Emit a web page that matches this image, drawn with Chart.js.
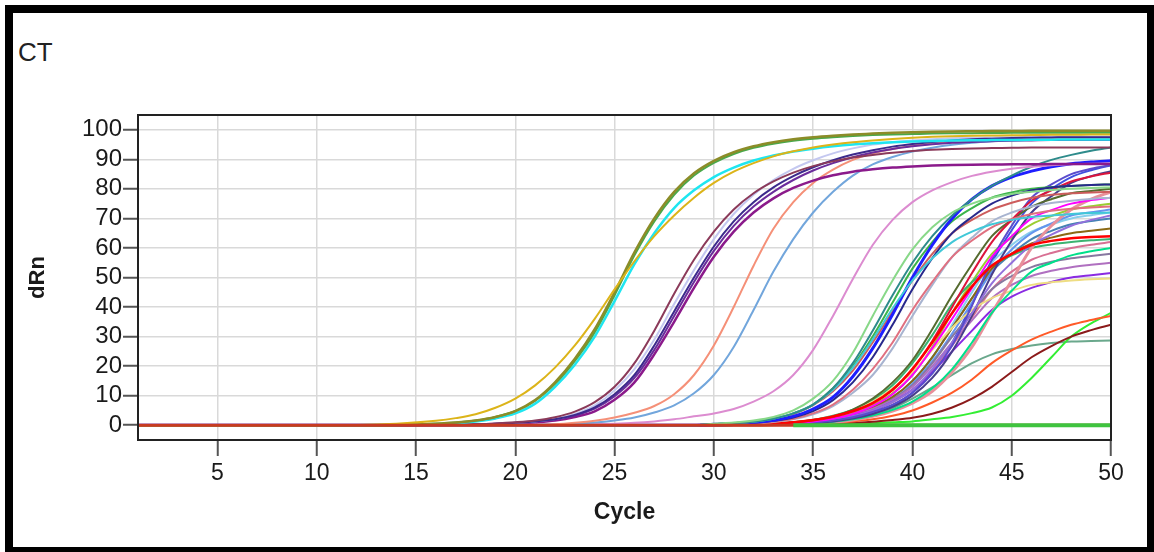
<!DOCTYPE html>
<html>
<head>
<meta charset="utf-8">
<script src="https://cdn.jsdelivr.net/npm/chart.js@4/dist/chart.umd.min.js"></script>
<style>
  html, body { margin: 0; padding: 0; background: #fff; }
  #frame {
    position: absolute; left: 5px; top: 5px; width: 1149px; height: 547px;
    box-sizing: border-box; border: solid #000; border-width: 8px 7px 5px 8px;
  }
  #ct {
    position: absolute; left: 18px; top: 37px; line-height: 26px;
    font: 26px "Liberation Sans", Arial, sans-serif; color: #222;
  }
  #chart { position: absolute; left: 0; top: 0; }
</style>
</head>
<body>
<div id="frame"></div>
<div id="ct">CT</div>
<canvas id="chart" width="1154" height="552"></canvas>
<script>
const cycles = [1, 12, 14, 16, 17, 18, 19, 20, 21, 22, 23, 24, 25, 26, 27, 28, 29, 30, 31, 32, 33,
    34, 35, 36, 37, 38, 39, 40, 41, 42, 43, 44, 45, 46, 47, 48, 49, 50];
// late curves are flat until cycle 29
const lateCycles = [1, 29, 30, 31, 32, 33, 34, 35, 36, 37, 38, 39, 40, 41, 42, 43, 44, 45, 46, 47, 48, 49, 50];
const xTicks = [5, 10, 15, 20, 25, 30, 35, 40, 45, 50];
const yTicks = [0, 10, 20, 30, 40, 50, 60, 70, 80, 90, 100];

// early samples (on cycles)
const gold     = [0, 0.1, 0.5, 1.5, 2.4, 3.7, 5.9, 9, 13.5, 19.5, 27, 36, 46, 55.5, 64, 71, 77, 82, 85.8, 88.7, 91, 92.7, 94, 95, 95.8, 96.4, 96.9, 97.3, 97.6, 97.8, 97.95, 98.05, 98.15, 98.2, 98.3, 98.3, 98.4, 98.4];
const olive    = [0, 0, 0.1, 0.5, 0.9, 1.6, 2.8, 4.8, 8.5, 14.5, 22.5, 32.5, 45, 58.5, 70, 79, 85.3, 89.5, 92.4, 94.4, 95.8, 96.8, 97.5, 98, 98.4, 98.7, 99, 99.2, 99.35, 99.45, 99.5, 99.55, 99.6, 99.65, 99.7, 99.7, 99.7, 99.7];
const green    = [0, 0, 0.1, 0.5, 0.9, 1.6, 2.8, 4.8, 8.3, 14, 21.8, 31.5, 44, 57.5, 69, 78, 84.5, 88.8, 91.8, 93.9, 95.3, 96.3, 97, 97.5, 97.9, 98.2, 98.4, 98.55, 98.7, 98.8, 98.85, 98.9, 98.95, 99, 99, 99, 99, 99];
const cyan     = [0, 0, 0.1, 0.4, 0.7, 1.3, 2.3, 4, 7.3, 13, 20.5, 30, 42, 54.5, 65, 73.5, 79.5, 84, 87.2, 89.6, 91.3, 92.6, 93.6, 94.4, 95, 95.4, 95.75, 96, 96.2, 96.35, 96.45, 96.5, 96.55, 96.6, 96.65, 96.7, 96.7, 96.7];
const maroon   = [0, 0, 0, 0.1, 0.2, 0.35, 0.6, 1, 1.6, 2.7, 4.6, 7.8, 13, 21, 32, 44.5, 56, 65.5, 73, 78.5, 82.5, 85.5, 87.7, 89.3, 90.6, 91.5, 92.2, 92.8, 93.2, 93.5, 93.7, 93.8, 93.9, 94, 94, 94, 94, 94];
const indigo   = [0, 0, 0, 0.1, 0.15, 0.25, 0.5, 0.8, 1.3, 2, 3.5, 6, 10.5, 17, 27, 38.5, 50, 60.5, 69, 75.5, 80.5, 84.3, 87.3, 89.7, 91.6, 93.1, 94.3, 95.2, 95.9, 96.4, 96.8, 97, 97.2, 97.3, 97.4, 97.5, 97.5, 97.5];
const lavender = [0, 0, 0, 0.1, 0.15, 0.25, 0.5, 0.8, 1.3, 2.1, 3.8, 6.7, 11.8, 19, 29, 41, 52.5, 63, 71.5, 78, 83, 86.8, 89.7, 92, 93.7, 95, 95.8, 96.4, 96.8, 97.1, 97.3, 97.4, 97.5, 97.55, 97.6, 97.6, 97.6, 97.6];
const violet   = [0, 0, 0, 0.1, 0.15, 0.25, 0.45, 0.7, 1.2, 1.9, 3.3, 5.6, 9.8, 16, 25.5, 37, 48.5, 59, 67.5, 74, 79, 83, 86.2, 88.7, 90.7, 92.3, 93.5, 94.4, 95.1, 95.6, 95.9, 96.1, 96.3, 96.4, 96.5, 96.5, 96.5, 96.5];
const purple   = [0, 0, 0, 0.1, 0.15, 0.25, 0.4, 0.6, 1, 1.6, 2.8, 4.7, 8.6, 14.5, 24, 35, 46.5, 57, 65.5, 72, 76.8, 80.3, 82.8, 84.6, 85.8, 86.6, 87.2, 87.6, 87.9, 88.1, 88.2, 88.25, 88.3, 88.35, 88.4, 88.4, 88.4, 88.4];
const salmon   = [0, 0, 0, 0, 0, 0, 0, 0, 0.1, 0.3, 0.8, 1.5, 2.6, 4.2, 6.5, 10.5, 17, 27, 40, 54, 66.5, 75.5, 82, 86.5, 89.8, 92, 93.5, 94.6, 95.3, 95.8, 96.2, 96.5, 96.7, 96.8, 96.9, 97, 97, 97];
const skyBlue  = [0, 0, 0, 0, 0, 0, 0, 0, 0.1, 0.2, 0.5, 0.9, 1.6, 2.6, 4.3, 6.7, 10.8, 17, 26.5, 39, 52, 63, 72, 79, 84.5, 88.3, 90.8, 92.6, 93.9, 94.9, 95.6, 96.1, 96.5, 96.7, 96.85, 96.95, 97, 97];
const orchid   = [0, 0, 0, 0, 0, 0, 0, 0, 0.05, 0.1, 0.2, 0.3, 0.5, 0.8, 1.3, 2, 3, 4, 5.5, 8, 11.5, 17, 25.5, 37, 49.5, 61, 69.5, 75.5, 79.5, 82.3, 84.4, 85.8, 86.8, 87.5, 88, 88.3, 88.5, 88.6];

// late samples (on lateCycles), first bunch
const lightGreen = [0, 0, 0.5, 0.9, 1.6, 2.8, 5, 9, 15, 24.5, 37, 49, 59.5, 67, 72, 75, 77, 78.3, 79, 79.6, 80, 80.3, 80.5];
const teal       = [0, 0, 0.4, 0.7, 1.2, 2.2, 4, 7, 12.5, 21, 32, 44, 55, 64, 71, 76.5, 81, 84.5, 87.5, 89.8, 91.5, 92.9, 94];
const turquoise  = [0, 0, 0.4, 0.7, 1.2, 2.2, 4, 7, 12, 19.5, 29, 39.5, 49, 56.5, 62, 65.5, 68, 69.5, 70.5, 71, 71.5, 71.8, 72];
const blue       = [0, 0, 0.3, 0.5, 0.9, 1.7, 3, 5.5, 9.5, 16.5, 26, 37.5, 50, 61, 70, 76.5, 81, 84, 86, 87.5, 88.5, 89.1, 89.5];
const navy       = [0, 0, 0.3, 0.5, 0.8, 1.5, 2.6, 4.8, 8.5, 14.5, 23, 34, 46, 56.5, 65, 70.5, 75, 77.7, 79.5, 80.5, 81, 81.3, 81.5];
const indianRed  = [0, 0, 0.4, 0.7, 1.2, 2.1, 3.8, 6.8, 11.5, 18.5, 28, 38.5, 49, 58, 65, 69.5, 73, 75.3, 77, 78, 78.5, 78.8, 79];
const pinkRed    = [0, 0, 0.2, 0.4, 0.7, 1.3, 2.2, 4, 7, 12, 19, 28, 39, 48.5, 57, 62.5, 67, 69.7, 71.5, 72.6, 73.3, 73.7, 74];
const lightSteel = [0, 0, 0.2, 0.35, 0.6, 1.1, 2, 3.7, 6.5, 11, 17, 26, 37, 47.5, 57, 63.5, 69, 72, 74, 75.2, 76, 76.6, 77];
const midGreen   = [0, 0, 0.4, 0.7, 1.2, 2.2, 4, 7, 12.5, 20, 30, 41.5, 53, 62, 69, 73.5, 77, 78.8, 80, 80.6, 81, 81.3, 81.5];

// late samples, second bunch
const red         = [0, 0, 0.1, 0.2, 0.3, 0.6, 1, 1.8, 3, 4.8, 7.5, 12, 19, 28, 38, 47, 54, 58, 61, 62.4, 63.3, 63.7, 64];
const crimson     = [0, 0, 0.1, 0.2, 0.3, 0.5, 0.9, 1.6, 2.8, 4.6, 7.5, 12, 19, 28.5, 40, 51.5, 62, 69.5, 76, 79.5, 82.5, 84.2, 85.5];
const magenta     = [0, 0, 0.05, 0.1, 0.2, 0.4, 0.7, 1.3, 2.2, 3.8, 6.5, 10.5, 17, 26, 36, 46.5, 57, 64, 70, 72.8, 75, 76.2, 77];
const darkOlive   = [0, 0, 0.1, 0.2, 0.3, 0.6, 1, 1.8, 3, 5.3, 9, 14.5, 22, 32.5, 44, 54.5, 64, 69.5, 74, 76.5, 78.5, 79.3, 80];
const slate       = [0, 0, 0, 0.1, 0.2, 0.3, 0.5, 0.9, 1.6, 2.7, 4.5, 7, 11, 17.5, 27, 40.5, 56, 67.5, 77, 81.5, 85, 86.8, 88];
const midPurple   = [0, 0, 0, 0.1, 0.2, 0.35, 0.6, 1.1, 1.8, 3.1, 5, 7.9, 12, 19, 28, 38, 48, 55, 61, 64.5, 67.5, 69.5, 71];
const darkSlate   = [0, 0, 0, 0.05, 0.1, 0.2, 0.4, 0.75, 1.3, 2.3, 3.8, 6.2, 10, 16, 25, 37, 51, 62.5, 72, 77.5, 82, 84.3, 86];
const spring      = [0, 0, 0, 0.05, 0.1, 0.2, 0.4, 0.7, 1.2, 2, 3.3, 5.2, 8, 12.5, 19, 28, 38, 45.5, 52, 55, 57.5, 58.9, 60];
const paleRed     = [0, 0, 0, 0.05, 0.1, 0.2, 0.3, 0.6, 1, 1.8, 3, 4.8, 7.5, 11.5, 18, 26.5, 38, 49, 60, 67.5, 73, 76.5, 79];
const khaki       = [0, 0, 0.1, 0.2, 0.3, 0.6, 1, 1.8, 3, 5, 8, 12.5, 18, 25.5, 33, 39, 43, 45.5, 47.5, 48.4, 49, 49.4, 49.7];
const blueViolet  = [0, 0, 0, 0.1, 0.2, 0.35, 0.6, 1.1, 2, 3.2, 5, 8, 12, 18, 25, 32, 39, 43.5, 46.5, 48.5, 50, 50.8, 51.5];
const mauve       = [0, 0, 0, 0.1, 0.2, 0.35, 0.6, 1.1, 2, 3.4, 5.5, 8.5, 13, 20, 28, 35.5, 43, 47.5, 50.5, 52.3, 53.5, 54.3, 55];
const grayPurple  = [0, 0, 0, 0.1, 0.2, 0.35, 0.6, 1.1, 2, 3.4, 5.5, 8.8, 13.5, 21, 30, 38, 46, 50.5, 53.5, 55.3, 56.5, 57.3, 58];
const rosy        = [0, 0, 0, 0.1, 0.2, 0.35, 0.6, 1, 1.8, 3, 5, 7.8, 12, 18.5, 27, 36.5, 46, 52, 56, 58.3, 60, 61.1, 62];
const brown       = [0, 0, 0, 0.1, 0.2, 0.4, 0.7, 1.2, 2.2, 3.6, 6, 9.5, 15, 23, 33, 43, 53, 58, 61.5, 63.5, 65, 65.8, 66.6];
const cornflower  = [0, 0, 0, 0.1, 0.2, 0.35, 0.6, 1.1, 2, 3.3, 5.5, 8.8, 14, 21.5, 31, 41.5, 52, 59.5, 65, 68.3, 71, 72.1, 73];
const seaGreen    = [0, 0, 0.1, 0.2, 0.3, 0.6, 1, 1.8, 3.2, 5.3, 8.5, 13.5, 21, 30.5, 41, 48.5, 54, 57.5, 60, 61.2, 62, 62.6, 63];
const steel       = [0, 0, 0, 0.1, 0.2, 0.4, 0.7, 1.2, 2.2, 3.6, 6, 9.5, 15, 23, 33, 43, 52, 58, 63, 65.8, 68, 69.1, 70];
const yellowGreen = [0, 0, 0, 0.1, 0.2, 0.4, 0.7, 1.3, 2.3, 4, 6.8, 10.8, 17, 26.5, 38, 48.5, 58, 63.5, 68, 70.8, 73, 74.1, 75];
const paleSky     = [0, 0, 0, 0.05, 0.1, 0.25, 0.5, 1, 1.8, 3.1, 5, 8.5, 14, 22.5, 34, 45, 55, 61, 65.5, 68, 70, 71.1, 72];
const royal       = [0, 0, 0, 0.05, 0.1, 0.2, 0.4, 0.8, 1.4, 2.4, 4, 6.6, 11, 18, 28, 41, 55, 66, 75, 80, 84, 86.3, 88];

// weak ones
const orangeRed  = [0, 0, 0, 0.05, 0.1, 0.2, 0.3, 0.5, 0.8, 1.3, 2, 3.2, 5, 7.7, 11, 15.5, 21, 25.3, 29, 31.7, 34, 35.6, 37];
const brownRed   = [0, 0, 0, 0, 0, 0.1, 0.2, 0.3, 0.5, 0.8, 1.2, 1.8, 2.5, 3.9, 6, 9, 13, 18, 23, 26.8, 30, 32.2, 34];
const lime       = [0, 0, 0, 0, 0, 0.05, 0.1, 0.2, 0.3, 0.5, 0.7, 1, 1.3, 2, 2.8, 4.1, 6, 10, 16, 23, 30, 34.5, 38];
const grayGreen  = [0, 0, 0, 0.05, 0.1, 0.2, 0.4, 0.7, 1.2, 2.1, 3.5, 5.7, 9, 12.8, 17, 21, 24, 25.8, 27, 27.8, 28.3, 28.5, 28.7];

// no amplification
const flatRed   = [0, 0, 0, 0, 0, 0, 0, 0, 0, 0, 0, 0, 0, 0, 0, 0, 0, 0, 0, 0, 0, 0, 0];
const flatGreen = [0, 0, 0, 0, 0, 0, 0, 0, 0, 0, 0, 0, 0, 0, 0, 0, 0, 0, 0, 0, 0, 0, 0];

const font = '"Liberation Sans", Arial, sans-serif';

function line(xs, values, color, width) {
    return {
        data: values.map((v, i) => ({ x: xs[i], y: v })),
        borderColor: color,
        borderWidth: width || 2,
        pointRadius: 0,
        fill: false,
        cubicInterpolationMode: "monotone",
    };
}
const early = (values, color, width) => line(cycles, values, color, width);
const late = (values, color, width) => line(lateCycles, values, color, width);

const greenBase = late(flatGreen, "#3fc43f", 4);
greenBase.segment = {
    borderColor: (ctx) => (ctx.p0.parsed.x >= 34 ? "#3fc43f" : "rgba(0,0,0,0)"),
};

const datasets = [
    greenBase,
    late(flatRed, "#c83a22", 3),
    early(gold, "#dcb419"),
    early(olive, "#8c8c28", 2.5),
    early(green, "#4aa84a"),
    early(cyan, "#1ee6f0", 2.5),
    early(maroon, "#8b3a5a"),
    early(indigo, "#3c2a8c"),
    early(lavender, "#c4c8f0"),
    early(violet, "#6a2c9c"),
    early(purple, "#8b1a8b", 2.5),
    early(salmon, "#f59078"),
    early(skyBlue, "#72a6dc"),
    early(orchid, "#dc8cd0"),
    late(lightGreen, "#88d888"),
    late(teal, "#2e8b8b"),
    late(turquoise, "#40c8d8"),
    late(blue, "#1e1eff", 3),
    late(navy, "#28288c"),
    late(indianRed, "#cd5c5c"),
    late(pinkRed, "#e07080"),
    late(lightSteel, "#a8b4d0"),
    late(midGreen, "#3cb44b"),
    late(red, "#ff0000", 2.5),
    late(crimson, "#dc143c"),
    late(magenta, "#ff00ff"),
    late(darkOlive, "#556b2f"),
    late(slate, "#5a4ccd"),
    late(midPurple, "#9370db"),
    late(darkSlate, "#483d8b"),
    late(spring, "#00e08a"),
    late(paleRed, "#e8909a", 3),
    late(khaki, "#eedd82"),
    late(blueViolet, "#8a2be2"),
    late(mauve, "#b070c0"),
    late(grayPurple, "#8878a0"),
    late(rosy, "#d87093"),
    late(brown, "#8b6914"),
    late(cornflower, "#6495ed"),
    late(seaGreen, "#3cb371"),
    late(steel, "#4682b4"),
    late(yellowGreen, "#9acd32"),
    late(paleSky, "#87ceeb"),
    late(royal, "#4050e0"),
    late(orangeRed, "#ff5a28"),
    late(brownRed, "#8b1a1a"),
    late(lime, "#33ee33"),
    late(grayGreen, "#6aa88c"),
];

// box round the plot area
const plotBorder = {
    id: "plotBorder",
    afterDatasetsDraw(chart) {
        const { ctx, chartArea: a } = chart;
        ctx.save();
        ctx.strokeStyle = "#222";
        ctx.lineWidth = 2;
        ctx.strokeRect(a.left, a.top, a.right - a.left, a.bottom - a.top);
        ctx.restore();
    },
};

new Chart(document.getElementById("chart"), {
    type: "line",
    data: { datasets },
    plugins: [plotBorder],
    options: {
        responsive: false,
        animation: false,
        layout: { padding: { left: 20, top: 115, right: 43, bottom: 10 } },
        scales: {
            x: {
                type: "linear",
                min: 1,
                max: 50,
                afterBuildTicks: (axis) => {
                    axis.ticks = xTicks.map((v) => ({ value: v }));
                },
                afterFit: (scale) => {
                    scale.height = 102;
                },
                border: { display: false },
                grid: { color: "#d9d9d9", lineWidth: 1.5, tickColor: "#555", tickLength: 16, tickWidth: 2 },
                ticks: { font: { family: font, size: 23 }, color: "#1a1a1a", padding: 4, maxRotation: 0, autoSkip: false },
                title: {
                    display: true,
                    text: "Cycle",
                    color: "#1a1a1a",
                    font: { family: font, size: 23, weight: "bold" },
                    padding: { top: 0, bottom: 16 },
                },
            },
            y: {
                min: -5,
                max: 105,
                afterBuildTicks: (axis) => {
                    axis.ticks = yTicks.map((v) => ({ value: v }));
                },
                afterFit: (scale) => {
                    scale.width = 118;
                },
                border: { display: false },
                grid: { color: "#d9d9d9", lineWidth: 1.5, tickColor: "#555", tickLength: 15, tickWidth: 2 },
                ticks: { font: { family: font, size: 24 }, color: "#1a1a1a", padding: 1 },
                title: {
                    display: true,
                    text: "dRn",
                    color: "#1a1a1a",
                    font: { family: font, size: 22, weight: "bold" },
                    padding: { top: 5, bottom: 0 },
                },
            },
        },
        plugins: {
            legend: { display: false },
            tooltip: { enabled: false },
        },
    },
});
</script>
</body>
</html>
